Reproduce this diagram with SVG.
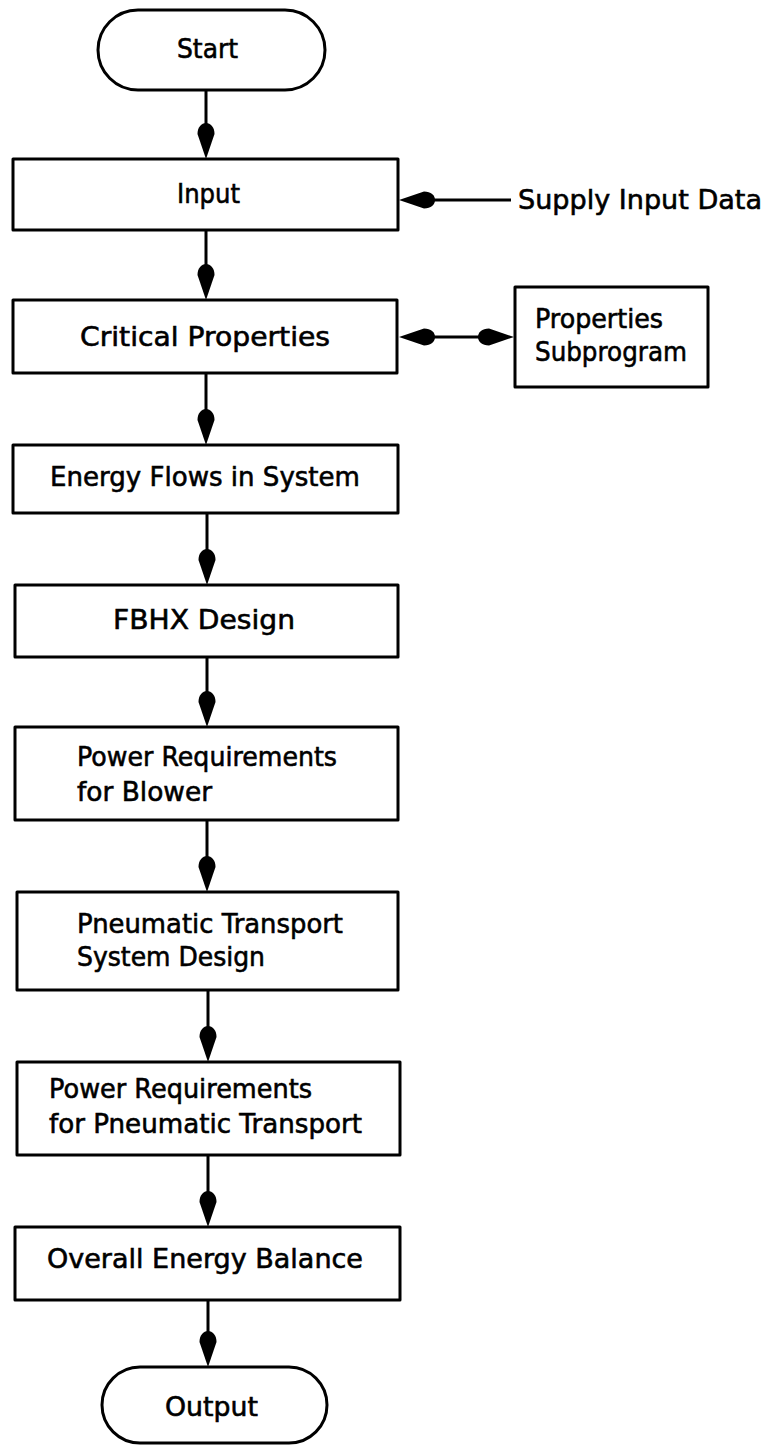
<svg xmlns="http://www.w3.org/2000/svg" width="767" height="1445" viewBox="0 0 767 1445">
<style>
.box{fill:#fff;stroke:#000;stroke-width:3;stroke-linejoin:round}
.t{font-family:"DejaVu Sans","Liberation Sans",sans-serif;font-size:27px;fill:#000;stroke:#000;stroke-width:0.6}
.ln{stroke:#000;stroke-width:3;fill:none}
</style>
<defs>
<marker id="ah" viewBox="-38 -10 39 20" refX="-10" refY="0" markerWidth="39" markerHeight="20" markerUnits="userSpaceOnUse" orient="auto-start-reverse">
<path d="M0,0 L-25,-8.5 C-32,-8.5 -36,-4.5 -36,0 C-36,4.5 -32,8.5 -25,8.5 Z" fill="#000"/>
</marker>
</defs>
<rect width="767" height="1445" fill="#fff"/>
<g id="connectors">
<line class="ln" x1="206" y1="90" x2="206" y2="149" marker-end="url(#ah)"/>
<line class="ln" x1="206" y1="230" x2="206" y2="290" marker-end="url(#ah)"/>
<line class="ln" x1="206" y1="373" x2="206" y2="435" marker-end="url(#ah)"/>
<line class="ln" x1="207" y1="513" x2="207" y2="575" marker-end="url(#ah)"/>
<line class="ln" x1="207" y1="657" x2="207" y2="717" marker-end="url(#ah)"/>
<line class="ln" x1="207" y1="820" x2="207" y2="882" marker-end="url(#ah)"/>
<line class="ln" x1="208" y1="990" x2="208" y2="1052" marker-end="url(#ah)"/>
<line class="ln" x1="208" y1="1155" x2="208" y2="1217" marker-end="url(#ah)"/>
<line class="ln" x1="208" y1="1300" x2="208" y2="1357" marker-end="url(#ah)"/>
<line class="ln" x1="511" y1="200" x2="409" y2="200" marker-end="url(#ah)"/>
<line class="ln" x1="409" y1="337" x2="504" y2="337" marker-start="url(#ah)" marker-end="url(#ah)"/>
</g>
<g id="start">
<rect class="box" x="98" y="10" width="227" height="80" rx="40" ry="40"/>
<text class="t" x="177" y="58" textLength="61" lengthAdjust="spacingAndGlyphs">Start</text>
</g>
<g id="input">
<rect class="box" x="13" y="159" width="385" height="71"/>
<text class="t" x="177" y="203" textLength="63" lengthAdjust="spacingAndGlyphs">Input</text>
</g>
<g id="supply">
<text class="t" x="518" y="209" textLength="244" lengthAdjust="spacingAndGlyphs">Supply Input Data</text>
</g>
<g id="critical">
<rect class="box" x="13" y="300" width="384" height="73"/>
<text class="t" x="80" y="346" textLength="250" lengthAdjust="spacingAndGlyphs">Critical Properties</text>
</g>
<g id="props">
<rect class="box" x="515" y="287" width="193" height="100"/>
<text class="t" x="535" y="328" textLength="128" lengthAdjust="spacingAndGlyphs">Properties</text>
<text class="t" x="535" y="361" textLength="152" lengthAdjust="spacingAndGlyphs">Subprogram</text>
</g>
<g id="energy">
<rect class="box" x="13" y="445" width="385" height="68"/>
<text class="t" x="50" y="486" textLength="310" lengthAdjust="spacingAndGlyphs">Energy Flows in System</text>
</g>
<g id="fbhx">
<rect class="box" x="15" y="585" width="383" height="72"/>
<text class="t" x="113" y="629" textLength="182" lengthAdjust="spacingAndGlyphs">FBHX Design</text>
</g>
<g id="blower">
<rect class="box" x="15" y="727" width="383" height="93"/>
<text class="t" x="77" y="766" textLength="260" lengthAdjust="spacingAndGlyphs">Power Requirements</text>
<text class="t" x="77" y="801" textLength="135" lengthAdjust="spacingAndGlyphs">for Blower</text>
</g>
<g id="pneumatic">
<rect class="box" x="17" y="892" width="381" height="98"/>
<text class="t" x="77" y="933" textLength="266" lengthAdjust="spacingAndGlyphs">Pneumatic Transport</text>
<text class="t" x="77" y="966" textLength="188" lengthAdjust="spacingAndGlyphs">System Design</text>
</g>
<g id="power-pneumatic">
<rect class="box" x="17" y="1062" width="383" height="93"/>
<text class="t" x="49" y="1098" textLength="263" lengthAdjust="spacingAndGlyphs">Power Requirements</text>
<text class="t" x="49" y="1133" textLength="313" lengthAdjust="spacingAndGlyphs">for Pneumatic Transport</text>
</g>
<g id="overall">
<rect class="box" x="15" y="1227" width="385" height="73"/>
<text class="t" x="47" y="1268" textLength="316" lengthAdjust="spacingAndGlyphs">Overall Energy Balance</text>
</g>
<g id="output">
<rect class="box" x="102" y="1367" width="225" height="76" rx="38" ry="38"/>
<text class="t" x="165" y="1416" textLength="93" lengthAdjust="spacingAndGlyphs">Output</text>
</g>
</svg>
